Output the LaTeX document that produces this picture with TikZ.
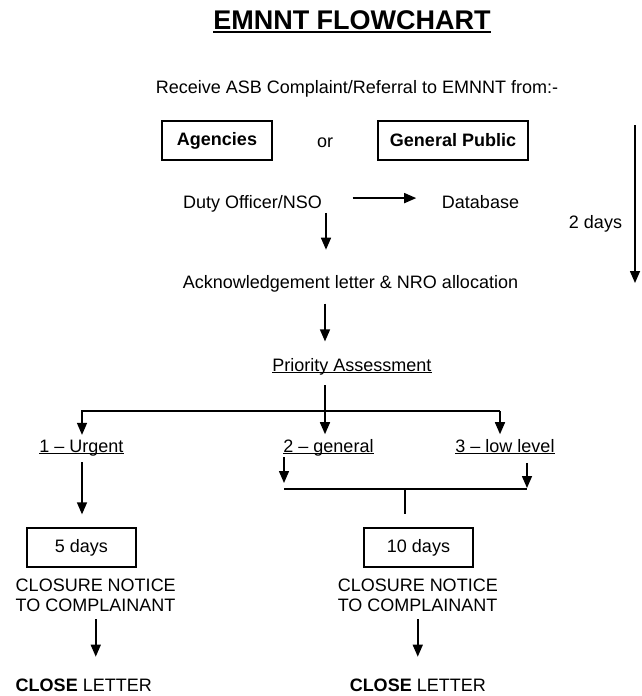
\documentclass[tikz,border=0pt]{standalone}
\usepackage{fontspec}
\setmainfont{Liberation Sans}
\usepackage{tikz}
\usetikzlibrary{arrows.meta}

\newlength\ulwd
\newcommand{\ulword}[1]{\settowidth{\ulwd}{#1}\rlap{\rule[-2.2pt]{\ulwd}{1.5pt}}#1}
\newcommand{\ultitle}[1]{\settowidth{\ulwd}{#1}\rlap{\rule[-4.5pt]{\ulwd}{2.8pt}}#1}

\begin{document}
\begin{tikzpicture}[x=1pt,y=-1pt,line width=1.5pt,
  arr/.style={-{Triangle[width=10pt,length=12pt]}},
  lbl/.style={inner sep=0pt,anchor=base,font=\fontsize{18}{20}\selectfont},
  box/.style={draw,line width=1.3pt,inner sep=0pt,minimum height=39pt,font=\fontsize{18}{20}\selectfont}]
\useasboundingbox (0,0) rectangle (641,696);
\node[lbl,font=\fontsize{27}{30}\selectfont\bfseries] (title) at (352,29) {\ultitle{EMNNT FLOWCHART}};
\node[lbl] (receive) at (357,93) {Receive ASB Complaint/Referral to EMNNT from:-};
\node[box,minimum width=110pt] (agencies) at (217,140.5) {\textbf{Agencies}};
\node[lbl] (orword) at (325,147) {or};
\node[box,minimum width=150pt] (public) at (453,140.5) {\textbf{General Public}};
\node[lbl] (duty) at (252.5,208.5) {Duty Officer/NSO};
\node[lbl] (database) at (480.5,208.5) {Database};
\node[lbl] (twodays) at (595.5,228.5) {2 days};
\node[lbl] (ack) at (350.5,288.5) {Acknowledgement letter \& NRO allocation};
\node[lbl] (priority) at (352,371) {\ulword{Priority Assessment}};
\node[lbl] (urgent) at (81.5,452) {\ulword{1 – Urgent}};
\node[lbl] (general) at (328.5,452) {\ulword{2 – general}};
\node[lbl] (lowlvl) at (505,452) {\ulword{3 – low level}};
\node[box,minimum width=109pt] (five) at (81.5,547.5) {5 days\hspace{10pt}};
\node[box,minimum width=109pt] (ten) at (418.5,547.5) {10 days\hspace{9pt}};
\node[lbl,anchor=north west,align=left] (closeA) at (15,578.5) {CLOSURE NOTICE\\TO COMPLAINANT};
\node[lbl,anchor=north west,align=left] (closeB) at (337,578.5) {CLOSURE NOTICE\\TO COMPLAINANT};
\node[lbl,anchor=base west] (letterA) at (15,691.5) {\textbf{CLOSE} LETTER};
\node[lbl,anchor=base west] (letterB) at (349,691.5) {\textbf{CLOSE} LETTER};

\coordinate (c1) at (326,0);   % duty -> ack
\coordinate (c2) at (325,0);   % ack -> priority -> general
\coordinate (bl) at (82,411);  % branch, left
\coordinate (br) at (500,411); % branch, right
\coordinate (ml) at (284,489); % merge line
\coordinate (mr) at (527,489);
\coordinate (mj) at (405,489);
\coordinate (ttop) at (635,125); % time arrow
\coordinate (tbot) at (635,283);

\draw[arr,shorten <=30pt,shorten >=25pt] ([yshift=5.75pt]duty.east) -- ([yshift=5.75pt]duty.east -| database.west);
\draw[arr,shorten >=25pt] (duty.south -| c1) -- (ack.north -| c1);
\draw[arr,shorten <=10.7pt,shorten >=15.8pt] (ack.south -| c2) -- (priority.north -| c2);
\draw[arr,shorten <=10pt,shorten >=4pt] (priority.south -| c2) -- (general.north -| c2);
\draw[arr,shorten >=4pt] (br) -- (bl) -- (bl |- urgent.north);
\draw[arr,shorten >=4pt] (br) -- (br |- lowlvl.north);
\draw[arr,shorten <=6pt,shorten >=13pt] (urgent.south -| bl) -- (five.north -| bl);
\draw[arr,shorten <=1pt,shorten >=6pt] (general.south -| ml) -- (ml);
\draw[arr,shorten <=8pt,shorten >=1pt] (lowlvl.south -| mr) -- (mr);
\draw (ml) -- (mr);
\draw[shorten >=13pt] (mj) -- (mj |- ten.north);
\draw[arr,shorten <=6.5pt,shorten >=21.5pt] (closeA.south) -- (closeA.south |- letterA.north);
\draw[arr,shorten <=6.5pt,shorten >=21.5pt] (closeB.south) -- (closeB.south |- letterB.north);
\draw[arr] (ttop) -- (tbot);
\end{tikzpicture}
\end{document}
